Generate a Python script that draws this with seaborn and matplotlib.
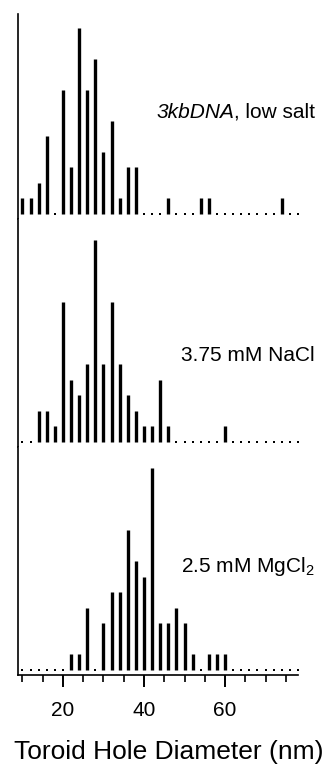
import numpy as np
import pandas as pd
import matplotlib
matplotlib.use("Agg")
import matplotlib.pyplot as plt
from matplotlib.ticker import MultipleLocator
import seaborn as sns

# toroid hole diameter bins (nm) and counts per condition
diameters = list(range(10, 80, 2))
low_salt = [1, 1, 2, 5, 0, 8, 3, 12, 8, 10, 4, 6, 1, 3, 3, 0, 0, 0, 1, 0,
            0, 0, 1, 1, 0, 0, 0, 0, 0, 0, 0, 0, 1, 0, 0]
nacl = [0, 0, 2, 2, 1, 9, 4, 3, 5, 13, 5, 9, 5, 3, 2, 1, 1, 4, 1, 0,
        0, 0, 0, 0, 0, 1, 0, 0, 0, 0, 0, 0, 0, 0, 0]
mgcl2 = [0, 0, 0, 0, 0, 0, 1, 1, 4, 0, 3, 5, 5, 9, 7, 6, 13, 3, 3, 4,
         3, 1, 0, 1, 1, 1, 0, 0, 0, 0, 0, 0, 0, 0, 0]
labels = [", low salt", "3.75 mM NaCl", r"2.5 mM MgCl$_2$"]

sns.set_style("ticks", {"axes.edgecolor": "black", "text.color": "black",
                        "xtick.color": "black", "ytick.color": "black",
                        "axes.labelcolor": "black"})
plt.rcParams["font.family"] = ["Liberation Sans", "DejaVu Sans"]
plt.rcParams["mathtext.fontset"] = "custom"
plt.rcParams["mathtext.rm"] = "Liberation Sans"
plt.rcParams["mathtext.it"] = "Liberation Sans:italic"

W, H = 329, 764
fig = plt.figure(figsize=(W / 100, H / 100), dpi=100)
gs = fig.add_gridspec(3, 1, height_ratios=[205, 228, 228], hspace=0,
                      left=18 / W, right=298 / W,
                      top=(H - 14) / H, bottom=(H - 675) / H)

ymin = -0.35
tops = [12.88, 14.35, 14.35]
label_y = [118, 361, 572]

for i, counts in enumerate([low_salt, nacl, mgcl2]):
    ax = fig.add_subplot(gs[i])
    df = pd.DataFrame({"d": diameters, "n": counts})
    bars = df[df["n"] > 0]
    zeros = df[df["n"] == 0]
    ax.vlines(bars["d"], 0, bars["n"], color="black", linewidth=2.4)
    sns.scatterplot(data=zeros, x="d", y="n", ax=ax, color="black",
                    marker="s", s=4, linewidth=0)
    ax.set_xlim(8.9, 78.0)
    ax.set_ylim(ymin, tops[i])
    ax.set_yticks([])
    ax.set_ylabel("")
    ax.set_xlabel("")
    for s in ["top", "right"]:
        ax.spines[s].set_visible(False)
    ax.spines["left"].set_linewidth(1.2)
    if i < 2:
        ax.spines["bottom"].set_visible(False)
        ax.tick_params(axis="x", which="both", bottom=False, labelbottom=False)
    else:
        ax.spines["bottom"].set_linewidth(1.2)
        ax.xaxis.set_major_locator(MultipleLocator(20))
        ax.xaxis.set_minor_locator(MultipleLocator(5))
        ax.tick_params(axis="x", which="major", length=8.6, width=1.4,
                       labelsize=15, pad=10, colors="black")
        ax.tick_params(axis="x", which="minor", length=5, width=1.2,
                       colors="black")
    t = fig.text(315 / W, 1 - label_y[i] / H, labels[i], ha="right",
                 va="baseline", fontsize=15, color="black")
    if i == 0:
        ax.annotate("3kbDNA", xy=(0, 0), xycoords=t, ha="right", va="bottom",
                    fontsize=15, style="italic", color="black",
                    annotation_clip=False)

fig.text(168.5 / W, 1 - 752 / H, "Toroid Hole Diameter (nm)",
         ha="center", va="center", fontsize=19, color="black")

fig.savefig("out.png", dpi=100)
